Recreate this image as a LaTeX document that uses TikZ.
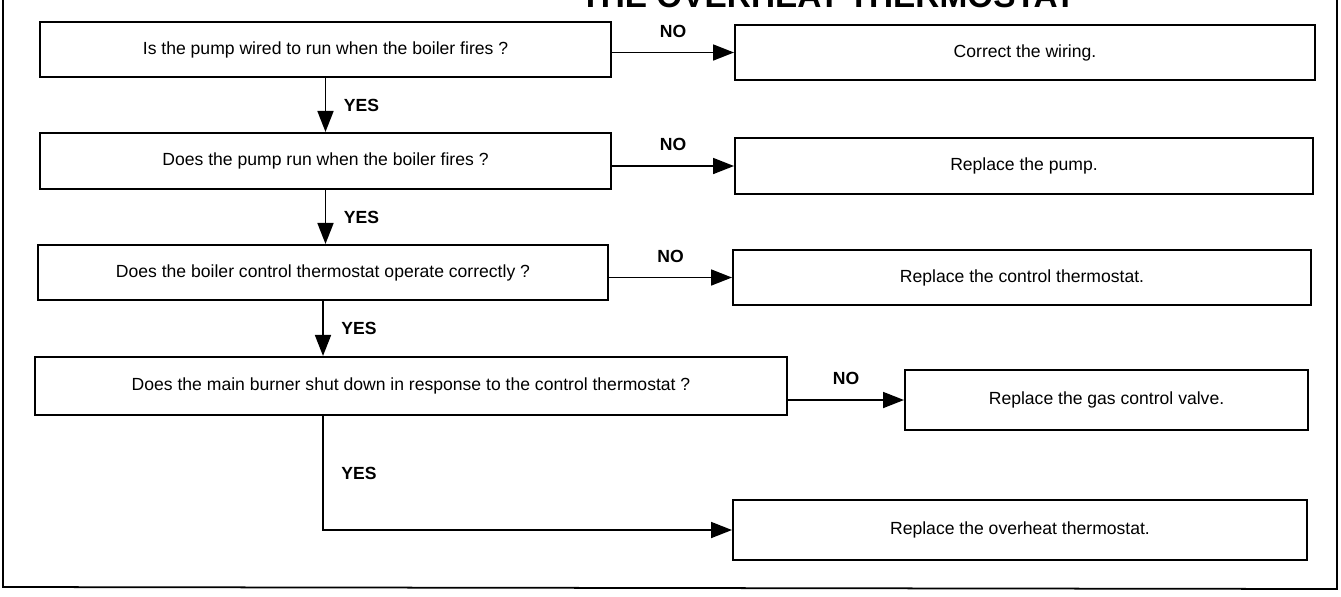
\documentclass[tikz,border=0pt]{standalone}
\usepackage{fontspec}
\setmainfont{Liberation Sans}
\usetikzlibrary{arrows.meta,calc,positioning}

\begin{document}
\begin{tikzpicture}[x=0.02cm,y=-0.02cm,
    box/.style={draw,line width=1.2pt,inner sep=0pt,font=\fontsize{10}{12}\selectfont},
    flow/.style={line width=1pt,-{Triangle[length=0.42cm,width=0.32cm]}},
    yesno/.style={font=\bfseries\fontsize{10}{12}\selectfont,inner sep=0pt}]
    \useasboundingbox (0,0) rectangle (1341,596);
    \clip (0,0) rectangle (1341,596);
    \draw[line width=1pt] (3,-10) -- (3,587) -- (1337,589) -- (1337,-10);
    \node[font=\bfseries\fontsize{19}{22}\selectfont,anchor=base] (title) at (828,7) {THE OVERHEAT THERMOSTAT};

    % questions
    \node[box,minimum width=11.42cm,minimum height=1.1cm] (q1) at (325.5,49.5) {Is the pump wired to run when the boiler fires ?};
    \node[box,minimum width=11.42cm,minimum height=1.12cm] (q2) at (325.5,161) {Does the pump run when the boiler fires ?};
    \node[box,minimum width=11.4cm,minimum height=1.1cm] (q3) at (323,272.5) {Does the boiler control thermostat operate correctly ?};
    \node[box,minimum width=15.04cm,minimum height=1.16cm] (q4) at (411,386) {Does the main burner shut down in response to the control thermostat ?};

    % answers
    \node[box,minimum width=11.6cm,minimum height=1.1cm] (a1) at (1025,52.5) {Correct the wiring.};
    \node[box,minimum width=11.56cm,minimum height=1.12cm] (a2) at (1024,166) {Replace the pump.};
    \node[box,minimum width=11.56cm,minimum height=1.1cm] (a3) at (1022,277.5) {Replace the control thermostat.};
    \node[box,minimum width=8.06cm,minimum height=1.2cm] (a4) at (1106.5,400) {Replace the gas control valve.};
    \node[box,minimum width=11.48cm,minimum height=1.2cm] (a5) at (1020,530) {Replace the overheat thermostat.};

    % NO branches
    \draw[flow] (q1.east |- a1.west) -- (a1.west) node[yesno,midway,above=8pt] {NO};
    \draw[flow] (q2.east |- a2.west) -- (a2.west) node[yesno,midway,above=8pt] {NO};
    \draw[flow] (q3.east |- a3.west) -- (a3.west) node[yesno,midway,above=8pt] {NO};
    \draw[flow] (q4.east |- a4.west) -- (a4.west) node[yesno,midway,above=8pt] {NO};

    % YES branches
    \draw[flow] (q1.south) -- (q1.south |- q2.north) node[yesno,midway,right=10pt] {YES};
    \draw[flow] (q2.south) -- (q2.south |- q3.north) node[yesno,midway,right=10pt] {YES};
    \draw[flow] (q3.south) -- (q3.south |- q4.north) node[yesno,midway,right=10pt] {YES};
    \draw[flow] (q3.south |- q4.south) |- (a5.west) node[yesno,pos=0.25,right=10pt] {YES};
\end{tikzpicture}
\end{document}
